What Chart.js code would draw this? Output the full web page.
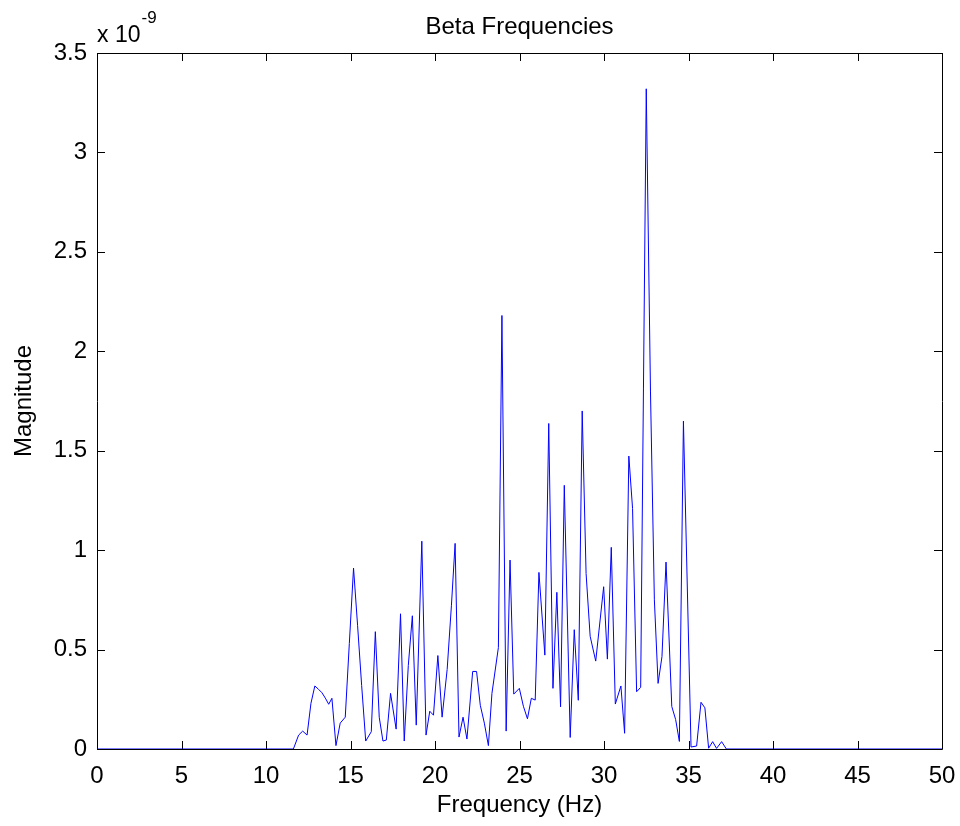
<!DOCTYPE html>
<html>
<head>
<meta charset="utf-8">
<title>Beta Frequencies</title>
<script src="https://cdn.jsdelivr.net/npm/chart.js@4.4.0/dist/chart.umd.min.js"></script>
<style>
  html, body { margin: 0; padding: 0; background: #fff; }
  #wrap { width: 960px; height: 826px; }
</style>
</head>
<body>
<div id="wrap"><canvas id="betaChart" width="960" height="826"></canvas></div>
<script>
// spectrum: frequency in Hz, magnitude in units of 1e-9
const freqs = [0, 11.62, 11.93, 12.17, 12.43, 12.66, 12.89, 13.11, 13.31, 13.51, 13.71, 13.9, 14.14, 14.39, 14.69, 14.93,
  15.18, 15.42, 15.66, 15.9, 16.23, 16.47, 16.7, 16.92, 17.12, 17.37, 17.7, 17.96, 18.18, 18.42, 18.66, 18.89,
  19.22, 19.47, 19.69, 19.91, 20.17, 20.42, 20.72, 20.97, 21.19, 21.42, 21.66, 21.89, 22.23, 22.46, 22.68, 22.92,
  23.16, 23.37, 23.75, 23.96, 24.21, 24.44, 24.66, 24.99, 25.23, 25.47, 25.7, 25.93, 26.15, 26.5, 26.73, 26.98,
  27.21, 27.43, 27.65, 28.0, 28.24, 28.48, 28.71, 28.94, 29.18, 29.51, 29.98, 30.2, 30.43, 30.67, 31.0, 31.22,
  31.47, 31.69, 31.93, 32.17, 32.5, 32.75, 32.98, 33.2, 33.43, 33.67, 34.01, 34.24, 34.46, 34.7, 35.15, 35.48,
  35.74, 35.97, 36.19, 36.43, 36.66, 36.96, 37.24, 50];
const mags = [0, 0, 0.07, 0.09, 0.07, 0.23, 0.317, 0.30, 0.283, 0.256, 0.225, 0.255, 0.017, 0.13, 0.16, 0.53,
  0.91, 0.62, 0.32, 0.04, 0.087, 0.59, 0.16, 0.04, 0.045, 0.28, 0.10, 0.68, 0.04, 0.42, 0.67, 0.12,
  1.045, 0.07, 0.19, 0.17, 0.47, 0.16, 0.40, 0.72, 1.034, 0.06, 0.16, 0.05, 0.39, 0.39, 0.22, 0.13,
  0.017, 0.28, 0.51, 2.18, 0.09, 0.95, 0.276, 0.305, 0.215, 0.152, 0.255, 0.246, 0.888, 0.472, 1.637, 0.305,
  0.788, 0.212, 1.326, 0.058, 0.6, 0.245, 1.70, 0.883, 0.567, 0.442, 0.816, 0.452, 1.014, 0.226, 0.317, 0.079,
  1.473, 1.21, 0.288, 0.31, 3.32, 1.8, 0.75, 0.33, 0.464, 0.94, 0.214, 0.148, 0.038, 1.649, 0.01, 0.015,
  0.235, 0.207, 0.004, 0.037, 0.003, 0.037, 0, 0];

const xTicks = [0, 5, 10, 15, 20, 25, 30, 35, 40, 45, 50];
const yTicks = [0, 0.5, 1, 1.5, 2, 2.5, 3, 3.5];

const FONT = '"Liberation Sans", Arial, Helvetica, sans-serif';

// matlab style box: frame, inward ticks on all sides, title and exponent label
const matlabFrame = {
  id: 'matlabFrame',
  beforeDatasetsDraw(chart) {
    const { ctx, chartArea: a, scales: { x, y } } = chart;
    const len = 8;
    ctx.save();
    ctx.strokeStyle = '#000';
    ctx.lineWidth = 1;
    ctx.beginPath();
    ctx.rect(a.left + 0.5, a.top + 0.5, a.right - a.left, a.bottom - a.top);
    xTicks.forEach(v => {
      const px = Math.round(x.getPixelForValue(v)) + 0.5;
      ctx.moveTo(px, a.bottom); ctx.lineTo(px, a.bottom - len);
      ctx.moveTo(px, a.top); ctx.lineTo(px, a.top + len);
    });
    yTicks.forEach(v => {
      const py = Math.round(y.getPixelForValue(v)) + 0.5;
      ctx.moveTo(a.left, py); ctx.lineTo(a.left + len, py);
      ctx.moveTo(a.right, py); ctx.lineTo(a.right - len, py);
    });
    ctx.stroke();

    ctx.fillStyle = '#000';
    // title sits over the middle of the axes box
    ctx.font = '24px ' + FONT;
    ctx.textAlign = 'center';
    ctx.textBaseline = 'middle';
    ctx.fillText('Beta Frequencies', (a.left + a.right) / 2, 27);

    ctx.textAlign = 'left';
    ctx.textBaseline = 'alphabetic';
    ctx.font = '23px ' + FONT;
    ctx.fillText('x 10', a.left, a.top - 11);
    const w = ctx.measureText('x 10').width;
    ctx.font = '17px ' + FONT;
    ctx.fillText('-9', a.left + w + 1, a.top - 30);
    ctx.restore();
  }
};

const ctx = document.getElementById('betaChart').getContext('2d');
new Chart(ctx, {
  type: 'line',
  data: {
    datasets: [{
      label: 'Magnitude',
      data: freqs.map((f, i) => ({ x: f, y: mags[i] })),
      borderColor: '#0000ff',
      borderWidth: 1,
      pointRadius: 0,
      tension: 0,
      fill: false
    }]
  },
  options: {
    responsive: false,
    animation: false,
    devicePixelRatio: 1,
    layout: { padding: { left: 0, right: 18, top: 53, bottom: 0 } },
    plugins: {
      legend: { display: false },
      tooltip: { enabled: false },
      title: { display: false }
    },
    scales: {
      x: {
        type: 'linear',
        min: 0,
        max: 50,
        afterBuildTicks: s => { s.ticks = xTicks.map(v => ({ value: v })); },
        afterFit: s => { s.height = 77; s.paddingLeft = 0; s.paddingRight = 0; },
        grid: { display: false, drawTicks: false },
        border: { display: false },
        ticks: { color: '#000', padding: 13, maxRotation: 0, font: { family: FONT, size: 24 } },
        title: {
          display: true,
          text: 'Frequency (Hz)',
          color: '#000',
          font: { family: FONT, size: 24 },
          padding: { top: 0, bottom: 6 }
        }
      },
      y: {
        type: 'linear',
        min: 0,
        max: 3.5,
        afterBuildTicks: s => { s.ticks = yTicks.map(v => ({ value: v })); },
        afterFit: s => { s.width = 97; s.paddingTop = 0; s.paddingBottom = 0; },
        grid: { display: false, drawTicks: false },
        border: { display: false },
        ticks: { color: '#000', padding: 10, font: { family: FONT, size: 24 }, callback: v => String(v) },
        title: {
          display: true,
          text: 'Magnitude',
          color: '#000',
          font: { family: FONT, size: 24 },
          padding: { top: 10, bottom: 0 }
        }
      }
    }
  },
  plugins: [matlabFrame]
});
</script>
</body>
</html>
